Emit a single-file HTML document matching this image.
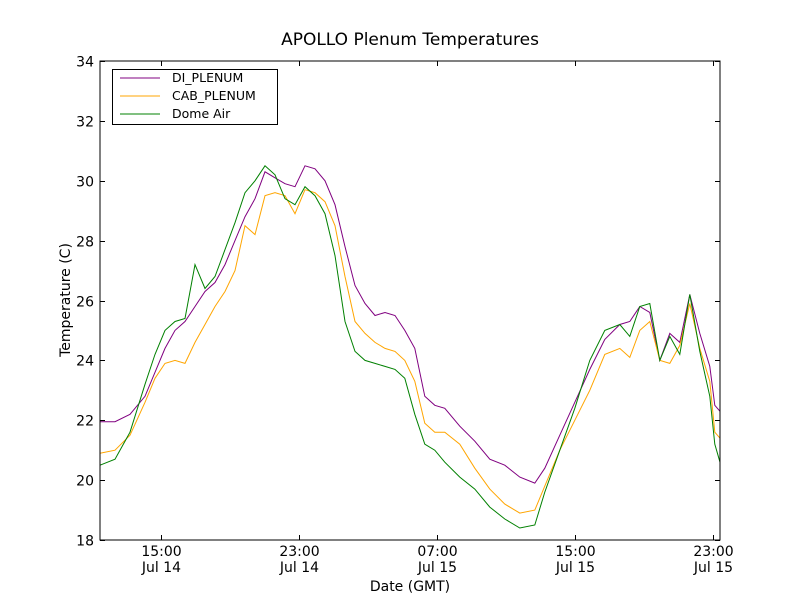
<!DOCTYPE html>
<html><head><meta charset="utf-8"><style>
body{margin:0;background:#fff}
svg{display:block;font-family:"DejaVu Sans","Liberation Sans",sans-serif}
</style></head><body>
<svg id="c" width="800" height="600">
<rect x="0" y="0" width="800" height="600" fill="#fff"/>
<text x="410" y="45" font-size="17" text-anchor="middle">APOLLO Plenum Temperatures</text>
<text x="410" y="591" font-size="14" text-anchor="middle">Date (GMT)</text>
<text x="70" y="300" font-size="14" text-anchor="middle" transform="rotate(-90 70 300)">Temperature (C)</text>
<g id="plot"></g>
<rect x="100" y="61" width="620" height="479" fill="none" stroke="#000" stroke-width="1"/>
<g>
<rect x="112.5" y="69.5" width="165" height="55" fill="#fff" stroke="#000"/>
<line x1="120" y1="78" x2="160" y2="78" stroke="#800080"/>
<text x="172" y="82" font-size="12.5">DI_PLENUM</text>
<line x1="120" y1="96" x2="160" y2="96" stroke="#ffa500"/>
<text x="172" y="100" font-size="12.5">CAB_PLENUM</text>
<line x1="120" y1="114" x2="160" y2="114" stroke="#008000"/>
<text x="172" y="118" font-size="12.5">Dome Air</text>
</g>
</svg>
<script>
// hours since 00:00 Jul 14 (GMT)
const times=[11.46,12.33,13.20,14.07,14.65,15.23,15.81,16.39,16.97,17.55,18.13,18.71,19.29,19.87,20.45,21.03,21.61,22.19,22.77,23.35,23.93,24.51,25.09,25.67,26.25,26.83,27.41,27.99,28.57,29.14,29.72,30.30,30.88,31.46,32.33,33.20,34.07,34.94,35.81,36.68,37.26,38.13,39.00,39.87,40.74,41.61,42.19,42.77,43.35,43.93,44.51,45.09,45.67,46.25,46.83,47.12,47.42];
const diPlenum=[21.95,21.95,22.2,22.8,23.6,24.4,25.0,25.3,25.8,26.3,26.6,27.2,28.0,28.8,29.4,30.3,30.1,29.9,29.8,30.5,30.4,30.0,29.2,27.8,26.5,25.9,25.5,25.6,25.5,25.0,24.4,22.8,22.5,22.4,21.8,21.3,20.7,20.5,20.1,19.9,20.4,21.5,22.6,23.7,24.7,25.2,25.3,25.8,25.6,24.0,24.9,24.6,26.2,24.9,23.8,22.5,22.3];
const cabPlenum=[20.9,21.0,21.5,22.6,23.4,23.9,24.0,23.9,24.6,25.2,25.8,26.3,27.0,28.5,28.2,29.5,29.6,29.5,28.9,29.7,29.6,29.3,28.5,26.8,25.3,24.9,24.6,24.4,24.3,24.0,23.3,21.9,21.6,21.6,21.2,20.4,19.7,19.2,18.9,19.0,19.8,21.0,22.0,23.0,24.2,24.4,24.1,25.0,25.3,24.0,23.9,24.5,25.9,24.4,23.3,21.6,21.4];
const domeAir=[20.5,20.7,21.6,23.2,24.2,25.0,25.3,25.4,27.2,26.4,26.8,27.7,28.6,29.6,30.0,30.5,30.2,29.4,29.2,29.8,29.5,28.9,27.5,25.3,24.3,24.0,23.9,23.8,23.7,23.4,22.2,21.2,21.0,20.6,20.1,19.7,19.1,18.7,18.4,18.5,19.6,21.0,22.4,24.0,25.0,25.2,24.8,25.8,25.9,24.0,24.8,24.2,26.2,24.3,22.8,21.2,20.6];
const yTicks=[18,20,22,24,26,28,30,32,34];
const xTickHours=[15,23,31,39,47];
const xTickTime=["15:00","23:00","07:00","15:00","23:00"];
const xTickDate=["Jul 14","Jul 14","Jul 15","Jul 15","Jul 15"];

const X0=100,X1=720,Y0=540,Y1=61,tMin=11.46,tMax=47.42,vMin=18,vMax=34;
const xs=t=>X0+(t-tMin)/(tMax-tMin)*(X1-X0);
const ys=v=>Y0-(v-vMin)/(vMax-vMin)*(Y0-Y1);
const NS="http://www.w3.org/2000/svg";
const plot=document.getElementById('plot');
function mk(tag,attrs){const e=document.createElementNS(NS,tag);for(const k in attrs)e.setAttribute(k,attrs[k]);plot.appendChild(e);return e;}

yTicks.forEach(v=>{
  const y=Math.round(ys(v))+0.5;
  const l=mk('path',{d:`M${X0},${y}h5M${X1},${y}h-5`,stroke:'#000'});
  
  
  const t=mk('text',{x:94,y:y+5,'font-size':14,'text-anchor':'end'});
  t.textContent=v;
  
  
});
xTickHours.forEach((h,i)=>{
  const x=Math.round(xs(h))+0.5;
  const l=mk('path',{d:`M${x},${Y0}v-5M${x},${Y1}v5`,stroke:'#000'});
  
  
  const t=mk('text',{x:x,y:556,'font-size':14,'text-anchor':'middle'});
  t.textContent=xTickTime[i];
  
  
  const d=mk('text',{x:x,y:572,'font-size':14,'text-anchor':'middle'});
  d.textContent=xTickDate[i];
  
  
});
[[diPlenum,'#800080','line-di-plenum'],[cabPlenum,'#ffa500','line-cab-plenum'],[domeAir,'#008000','line-dome-air']].forEach(([vals,col,name])=>{
  const pts=vals.map((v,i)=>xs(times[i]).toFixed(1)+','+ys(v).toFixed(1)).join(' ');
  const p=mk('polyline',{points:pts,fill:'none',stroke:col,'stroke-width':1});
  
  
});
</script>
</body></html>
